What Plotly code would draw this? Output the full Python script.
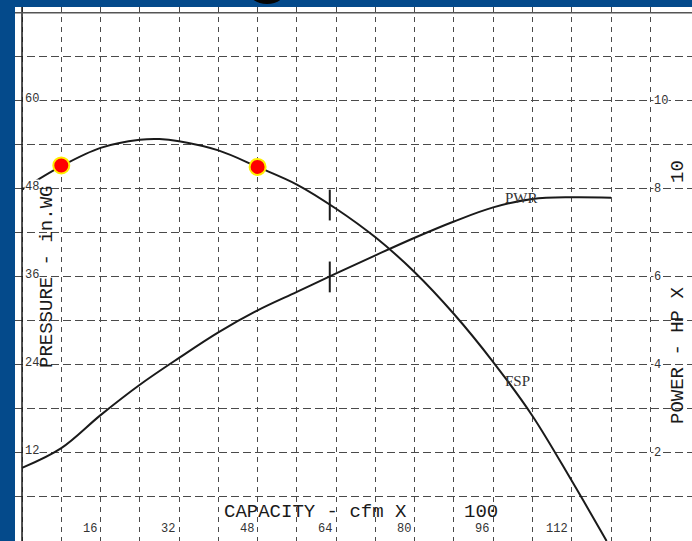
import plotly.graph_objects as go

# ---------------- data ----------------
fsp_cfm = [0, 8, 16, 24, 28, 32, 40, 48, 56, 64, 72, 80, 88, 96, 104, 112, 119.1]
fsp_pressure = [47.9, 51.1, 53.6, 54.7, 54.8, 54.5, 53.25, 51.0, 48.6, 45.3, 41.4, 36.65, 30.95, 24.4, 17.05, 8.2, 0.0]

pwr_cfm = [0, 8, 16, 24, 32, 40, 48, 56, 64, 72, 80, 88, 96, 104, 112, 120]
pwr_hp = [1.66, 2.11, 2.86, 3.55, 4.16, 4.74, 5.24, 5.66, 6.08, 6.49, 6.89, 7.26, 7.58, 7.77, 7.81, 7.8]

dot_cfm = [8.0, 48.0]
dot_pressure = [51.2, 51.0]

tick_cfm = [62.7]
tick_fsp_pressure = [45.8]
tick_pwr_hp = [6.0]

x_tick_labels = [16, 32, 48, 64, 80, 96, 112]
pressure_tick_labels = [60, 48, 36, 24, 12]
power_tick_labels = [10, 8, 6, 4, 2]

x_grid = list(range(0, 129, 8))
y_grid = list(range(6, 67, 6))

# ---------------- styling ----------------
BLUE = "#044a8b"
GRID = "#4a4a4a"
INK = "#1a1a1a"
MONO = "Liberation Mono, Courier New, monospace"
SERIF = "Liberation Serif, Times New Roman, serif"

W, H = 692, 541
ML, MR, MT, MB = 15, 0, 7, 0

X_RANGE = [-1.43, 136.5]
Y_RANGE = [0, 72.8]
Y2_RANGE = [0, 72.8 / 6]

fig = go.Figure()

fig.add_trace(go.Scatter(
    x=fsp_cfm, y=fsp_pressure, mode="lines",
    line=dict(color=INK, width=2, shape="spline", smoothing=1.0),
    hoverinfo="skip", showlegend=False, yaxis="y"))

fig.add_trace(go.Scatter(
    x=pwr_cfm, y=pwr_hp, mode="lines",
    line=dict(color=INK, width=2, shape="spline", smoothing=1.0),
    hoverinfo="skip", showlegend=False, yaxis="y2"))

# small vertical tick marks on the curves
fig.add_trace(go.Scatter(
    x=tick_cfm, y=tick_fsp_pressure, mode="markers",
    marker=dict(symbol="line-ns", size=22, line=dict(color=INK, width=2)),
    hoverinfo="skip", showlegend=False, yaxis="y"))
fig.add_trace(go.Scatter(
    x=tick_cfm, y=tick_pwr_hp, mode="markers",
    marker=dict(symbol="line-ns", size=22, line=dict(color=INK, width=2)),
    hoverinfo="skip", showlegend=False, yaxis="y2"))

# red operating points
fig.add_trace(go.Scatter(
    x=dot_cfm, y=dot_pressure, mode="markers",
    marker=dict(color="#ff0000", size=16, line=dict(color="#ffee00", width=2)),
    hoverinfo="skip", showlegend=False, yaxis="y"))

annotations = []
for v in x_tick_labels:
    annotations.append(dict(x=v, y=0, xref="x", yref="paper", text=str(v),
                            xanchor="right", yanchor="bottom", xshift=-2, yshift=3,
                            showarrow=False, font=dict(family=MONO, size=12, color="#333")))
for v in pressure_tick_labels:
    annotations.append(dict(x=0, y=v, xref="x", yref="y", text=str(v),
                            xanchor="left", yanchor="middle", xshift=2, yshift=2,
                            showarrow=False, bgcolor="white", borderpad=0,
                            font=dict(family=MONO, size=12, color="#333")))
for v in power_tick_labels:
    annotations.append(dict(x=128, y=v, xref="x", yref="y2", text=str(v),
                            xanchor="left", yanchor="middle", xshift=3,
                            showarrow=False, bgcolor="white", borderpad=0,
                            font=dict(family=MONO, size=12, color="#333")))

def px_x(px):
    return (px - ML) / (W - ML - MR)

def px_y(py):
    return (H - MB - py) / (H - MT - MB)

def title(text, px, py, angle=0):
    return dict(x=px_x(px), y=px_y(py), xref="paper", yref="paper", text=text,
                xanchor="center", yanchor="middle", textangle=angle,
                showarrow=False, font=dict(family=MONO, size=19, color=INK))

annotations += [
    title("CAPACITY - cfm X", 315, 512),
    title("100", 481, 512),
    title("PRESSURE - in.WG", 47, 277, -90),
    title("POWER - HP X", 678, 356, -90),
    title("10", 678, 172, -90),
    dict(x=98, y=46.8, xref="x", yref="y", text="PWR", xanchor="left", yanchor="middle",
         showarrow=False, font=dict(family=SERIF, size=15, color="#333")),
    dict(x=98, y=21.8, xref="x", yref="y", text="FSP", xanchor="left", yanchor="middle",
         showarrow=False, font=dict(family=SERIF, size=15, color="#333")),
]

shapes = [
    # white paper continues to the right window edge
    dict(type="rect", xref="paper", yref="paper", x0=0.99, x1=1.03, y0=0, y1=1,
         fillcolor="white", line=dict(width=0), layer="below"),
    # solid left border at zero capacity
    dict(type="line", xref="x", yref="paper", x0=0, x1=0, y0=0, y1=1,
         line=dict(color=INK, width=1.5), layer="above"),
    # solid top border at 72
    dict(type="line", xref="paper", yref="y", x0=0, x1=1.03, y0=72, y1=72,
         line=dict(color="#555", width=1.5), layer="above"),
    # dark blob from cropped title above
    dict(type="circle", xref="paper", yref="paper",
         x0=px_x(248), x1=px_x(286), y0=px_y(4), y1=px_y(-24),
         fillcolor="#050505", line=dict(width=0), layer="above"),
]

fig.update_layout(
    width=W, height=H,
    margin=dict(l=ML, r=MR, t=MT, b=MB, pad=0),
    paper_bgcolor=BLUE, plot_bgcolor="white",
    showlegend=False,
    annotations=annotations,
    shapes=shapes,
    xaxis=dict(range=X_RANGE, showgrid=True, tickmode="array", tickvals=x_grid,
               gridcolor=GRID, gridwidth=1, griddash="5px,5px",
               zeroline=False, showticklabels=False, ticks="", fixedrange=True),
    yaxis=dict(range=Y_RANGE, showgrid=True, tickmode="array", tickvals=y_grid,
               gridcolor=GRID, gridwidth=1, griddash="8px,4px",
               zeroline=False, showticklabels=False, ticks="", fixedrange=True),
    yaxis2=dict(range=Y2_RANGE, overlaying="y", side="right", showgrid=False,
                zeroline=False, showticklabels=False, ticks="", fixedrange=True),
)

fig.write_html(
    "out.html",
    config={"displayModeBar": False, "staticPlot": True},
    post_script="document.body.style.margin='0';document.body.style.padding='0';document.body.style.overflow='hidden';",
)
